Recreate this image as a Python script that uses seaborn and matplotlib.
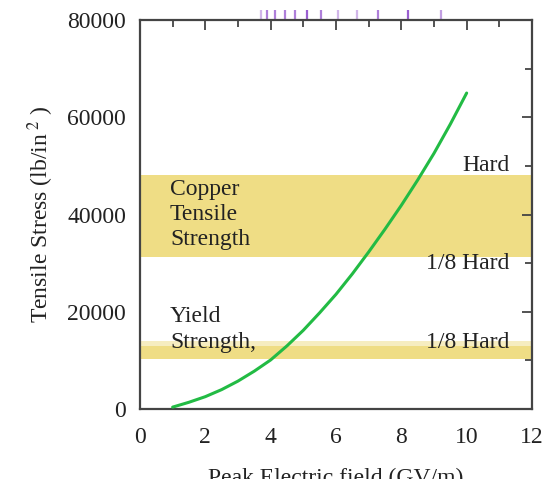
import numpy as np
import pandas as pd
import matplotlib
matplotlib.use("Agg")
import matplotlib.pyplot as plt
import seaborn as sns
from matplotlib.ticker import MultipleLocator

# Data
field = [1, 1.5, 2, 2.5, 3, 3.5, 4, 4.5, 5, 5.5, 6, 6.5, 7, 7.5, 8, 8.5, 9, 9.5, 10]
stress = [400, 1400, 2550, 4000, 5750, 7800, 10100, 13000, 16200, 19800, 23600,
          27800, 32300, 37000, 41900, 47100, 52600, 58600, 65000]
rug_x = [3.69, 3.90, 4.13, 4.44, 4.74, 5.12, 5.53, 6.05, 6.65, 7.30, 8.21, 9.23]
rug_alpha = [0.45, 0.8, 0.8, 0.8, 0.8, 1.0, 0.8, 0.45, 0.45, 0.8, 1.0, 0.6]
tensile_band = (31300, 48200)
yield_band = (10200, 14100)
xticks = [0, 2, 4, 6, 8, 10, 12]
yticks = [0, 20000, 40000, 60000, 80000]

sns.set_theme(style="white")
plt.rcParams['font.family'] = ['Liberation Serif', 'DejaVu Serif']
plt.rcParams['mathtext.fontset'] = 'stix'

fig = plt.figure(figsize=(5.51, 4.79), dpi=100)
ax = fig.add_axes([0.254, 0.146, 0.7115, 0.812])

band_col = "#efdd85"
ax.axhspan(*tensile_band, color=band_col, lw=0, zorder=0)
# yield band with soft upper edge
ax.axhspan(yield_band[0], yield_band[1] - 1200, color=band_col, lw=0, zorder=0)
ax.axhspan(yield_band[1] - 1200, yield_band[1], color=band_col, alpha=0.5, lw=0, zorder=0)

df = pd.DataFrame({"field": field, "stress": stress})
sns.lineplot(data=df, x="field", y="stress", color="#22bb44", lw=2.2, ax=ax, zorder=3)

for xv, a in zip(rug_x, rug_alpha):
    ax.vlines(xv, 1.0, 1.025, transform=ax.get_xaxis_transform(), clip_on=False,
              colors="#9a5fd0", alpha=a, lw=1.6)

ax.set_xlim(0, 12)
ax.set_ylim(0, 80000)
ax.set_xticks(xticks)
ax.set_yticks(yticks)
ax.xaxis.set_minor_locator(MultipleLocator(1))
ax.yaxis.set_minor_locator(MultipleLocator(10000))
ax.tick_params(which="both", direction="in", top=True, right=True, colors="#444444",
               labelcolor="#222222", labelsize=17, width=1.3)
ax.tick_params(which="major", length=7)
ax.tick_params(which="minor", length=5)
ax.tick_params(axis="x", pad=13)
ax.tick_params(axis="y", pad=10)
for s in ax.spines.values():
    s.set_color("#444444")
    s.set_linewidth(1.6)

ax.set_xlabel("Peak Electric field (GV/m)", fontsize=17, color="#222222", labelpad=14)
ax.set_ylabel(r"Tensile Stress (lb/in$^{\ 2}$ )", fontsize=17, color="#222222", labelpad=8)

tk = dict(fontsize=17, color="#222222")
ax.text(0.92, 40000, "Copper\nTensile\nStrength", va="center", ha="left", linespacing=1.25, **tk)
ax.text(11.3, 50200, "Hard", va="center", ha="right", **tk)
ax.text(11.3, 30000, "1/8 Hard", va="center", ha="right", **tk)
ax.text(0.92, 19100, "Yield", va="center", ha="left", **tk)
ax.text(0.92, 13600, "Strength,", va="center", ha="left", **tk)
ax.text(11.3, 13600, "1/8 Hard", va="center", ha="right", **tk)

fig.savefig("out.png", dpi=100)
